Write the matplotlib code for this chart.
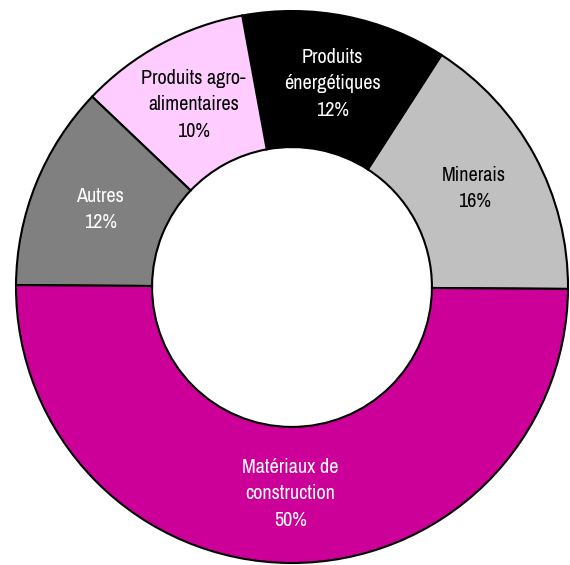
import numpy as np
import matplotlib.pyplot as plt

# donut slices, counterclockwise from the right
labels = ["Minerais", "Produits\nénergétiques", "Produits agro-\nalimentaires", "Autres", "Matériaux de\nconstruction"]
values = [16, 12, 10, 12, 50]
colors = ["#C0C0C0", "#000000", "#FFCCFF", "#808080", "#CC0099"]
text_colors = ["black", "white", "black", "white", "white"]

W, H = 570, 565
cx, cy, R = 292, 287, 276  # centre and radius in pixels

fig = plt.figure(figsize=(W / 100, H / 100), dpi=100)
ax = fig.add_axes([0, 0, 1, 1])

wedges, _ = ax.pie(values, colors=colors, startangle=-0.4, counterclock=True,
                   radius=1, wedgeprops=dict(width=0.493, edgecolor="black", linewidth=1.5))

# labels in the middle of the ring
for w, lab, v, tc in zip(wedges, labels, values, text_colors):
    ang = np.deg2rad((w.theta1 + w.theta2) / 2)
    r = 0.75
    ax.text(r * np.cos(ang), r * np.sin(ang), f"{lab}\n{v}%", ha="center", va="center",
            color=tc, fontsize=14.5, linespacing=1.5,
            family=["Archivo Narrow", "Liberation Sans", "DejaVu Sans"])

ax.set_xlim(-cx / R, (W - cx) / R)
ax.set_ylim(-(H - cy) / R, cy / R)
ax.set_aspect("equal")
ax.axis("off")

fig.savefig("out.png", dpi=100)
